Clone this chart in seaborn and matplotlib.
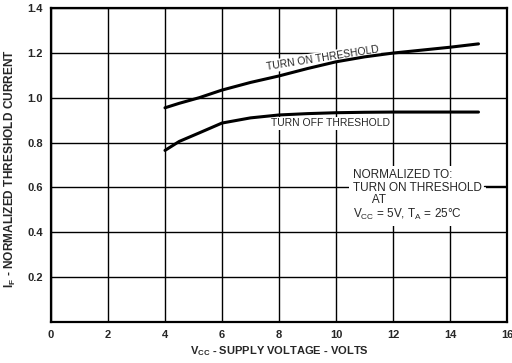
import pandas as pd
import numpy as np
import matplotlib.pyplot as plt
import seaborn as sns

# values
vcc_on = [4.0, 4.5, 5.2, 6.0, 7.0, 8.0, 9.0, 10.0, 11.0, 12.0, 13.0, 14.0, 15.0]
if_on = [0.955, 0.975, 1.0, 1.034, 1.068, 1.097, 1.13, 1.16, 1.182, 1.199, 1.212, 1.225, 1.24]

vcc_off = [4.0, 4.5, 5.2, 6.0, 7.0, 8.0, 9.0, 10.0, 11.0, 12.0, 13.0, 14.0, 15.0]
if_off = [0.765, 0.805, 0.843, 0.887, 0.91, 0.923, 0.929, 0.933, 0.935, 0.936, 0.936, 0.936, 0.936]

x_ticks = [0, 2, 4, 6, 8, 10, 12, 14, 16]
y_ticks = [0.2, 0.4, 0.6, 0.8, 1.0, 1.2, 1.4]

df = pd.concat([
    pd.DataFrame({'Vcc': vcc_on, 'If': if_on, 'curve': 'on'}),
    pd.DataFrame({'Vcc': vcc_off, 'If': if_off, 'curve': 'off'}),
])

sns.set_style('white')
plt.rcParams['font.family'] = ['Liberation Sans', 'DejaVu Sans']
plt.rcParams['mathtext.fontset'] = 'custom'
plt.rcParams['mathtext.rm'] = 'Liberation Sans'
plt.rcParams['mathtext.bf'] = 'Liberation Sans:bold'

fig = plt.figure(figsize=(5.12, 3.63), dpi=100)
ax = fig.add_axes([0.0996, 0.113, 0.8906, 0.865])

sns.lineplot(data=df, x='Vcc', y='If', units='curve', estimator=None,
             color='black', linewidth=2.2, ax=ax, zorder=3)

ax.set_xlim(0, 16)
ax.set_ylim(0, 1.4)
ax.set_xticks(x_ticks)
ax.set_yticks(y_ticks)
ax.set_xticklabels([str(t) for t in x_ticks], fontsize=8, fontweight='bold')
ax.set_yticklabels([f'{t:.1f}' for t in y_ticks], fontsize=8, fontweight='bold')
ax.tick_params(length=0, pad=6)
ax.grid(True, color='black', linewidth=1.0)
ax.set_axisbelow(True)
for s in ax.spines.values():
    s.set_linewidth(1.6)
    s.set_color('black')

ax.set_xlabel(r'$\mathbf{V_{CC}}$ - SUPPLY VOLTAGE - VOLTS', fontsize=8, fontweight='bold')
ax.set_ylabel(r'$\mathbf{I_F}$ - NORMALIZED THRESHOLD CURRENT', fontsize=8.6, fontweight='bold')
ax.xaxis.set_label_coords(0.5, -0.072)
ax.yaxis.set_label_coords(-0.073, 0.49)

box = dict(facecolor='white', edgecolor='none', pad=1)
ax.text(9.55, 1.177, 'TURN ON THRESHOLD', fontsize=7.5, rotation=9,
        ha='center', va='center', bbox=box, zorder=2)
ax.text(9.8, 0.886, 'TURN OFF THRESHOLD', fontsize=7.5,
        ha='center', va='center', bbox=box, zorder=2)

note = ('NORMALIZED TO:\nTURN ON THRESHOLD\n      AT\n'
        r'$\mathregular{V_{CC}}$ = 5V, $\mathregular{T_A}$ = 25°C')
ax.text(10.6, 0.68, note, fontsize=8.5, ha='left', va='top', linespacing=1.05,
        bbox=dict(facecolor='white', edgecolor='none', pad=3), zorder=2)
ax.plot([15.2, 16], [0.605, 0.605], color='black', linewidth=1.0, zorder=2.5)

fig.savefig('out.png', dpi=100)
